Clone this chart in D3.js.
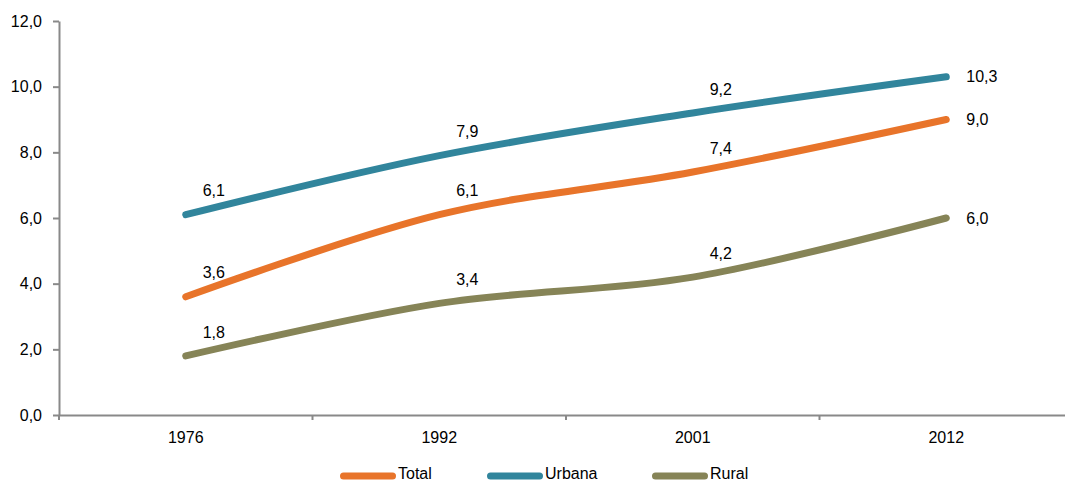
<!DOCTYPE html>
<html><head><meta charset="utf-8">
<script src="https://cdn.jsdelivr.net/npm/d3@7"></script>
<style>body{margin:0;background:#fff}svg text{font-family:"Liberation Sans",Arial,sans-serif;fill:#000}</style>
</head><body><svg id="c" width="1065" height="483"></svg>
<script>
const years = ["1976","1992","2001","2012"];
const total = [3.6, 6.1, 7.4, 9.0];
const urbana = [6.1, 7.9, 9.2, 10.3];
const rural = [1.8, 3.4, 4.2, 6.0];
const seriesNames = ["Total","Urbana","Rural"];
const seriesColors = ["#E8742A","#31859C","#868457"];
const yTicks = [0,2,4,6,8,10,12];

const svg = d3.select("#c");
const x = d3.scaleBand().domain(years).range([59, 1073]);
const y = d3.scaleLinear().domain([0,12]).range([415, 21]);
const fmt = v => d3.format(".1f")(v).replace(".", ",");
const axisColor = "#898989";

// y axis
const ya = svg.append("g").attr("transform","translate(59,0)")
  .call(d3.axisLeft(y).tickValues(yTicks).tickFormat(fmt).tickSize(6).tickSizeOuter(0).tickPadding(11));
ya.select(".domain").attr("stroke",axisColor).attr("stroke-width",2);
ya.selectAll(".tick line").attr("stroke",axisColor).attr("stroke-width",2);
ya.selectAll(".tick text").attr("font-size",16).attr("font-family","Liberation Sans, Arial, sans-serif").attr("fill","#000");

// x axis
const xa = svg.append("g").attr("transform","translate(0,415)")
  .call(d3.axisBottom(x).tickSize(0).tickPadding(17));
xa.select(".domain").attr("stroke",axisColor).attr("stroke-width",2);
xa.selectAll(".tick text").attr("font-size",16).attr("font-family","Liberation Sans, Arial, sans-serif").attr("fill","#000");
// category boundary ticks
const bounds = years.map(d => x(d)).concat([x(years[years.length-1]) + x.bandwidth()]);
svg.append("g").selectAll("line").data(bounds).join("line")
  .attr("x1", d => d).attr("x2", d => d).attr("y1", 415).attr("y2", 420)
  .attr("stroke", axisColor).attr("stroke-width", 2);

const cx = d => x(d) + x.bandwidth()/2;
const line = d3.line().x((d,i) => cx(years[i])).y(d => y(d)).curve(d3.curveCardinal.tension(0));
const data = [total, urbana, rural];

data.forEach((vals, si) => {
  svg.append("path").attr("d", line(vals)).attr("fill","none")
    .attr("stroke", seriesColors[si]).attr("stroke-width", 7)
    .attr("stroke-linecap","round").attr("stroke-linejoin","round");
});

data.forEach((vals, si) => {
  vals.forEach((v, i) => {
    const last = i === vals.length - 1;
    svg.append("text")
      .attr("x", cx(years[i]) + (last ? 20 : 28))
      .attr("y", y(v) + (last ? 0 : -24))
      .attr("dy", "0.35em")
      .attr("text-anchor", last ? "start" : "middle")
      .attr("font-size", 16)
      .text(fmt(v));
  });
});

// legend
const legendX = [340, 487, 652];
const lg = svg.append("g");
seriesNames.forEach((n, i) => {
  lg.append("line").attr("x1", legendX[i] + 3.5).attr("x2", legendX[i] + 52.5)
    .attr("y1", 476).attr("y2", 476)
    .attr("stroke", seriesColors[i]).attr("stroke-width", 7).attr("stroke-linecap","round");
  lg.append("text").attr("x", legendX[i] + 58).attr("y", 478.5)
    .attr("font-size", 16).text(n);
});
</script></body></html>
